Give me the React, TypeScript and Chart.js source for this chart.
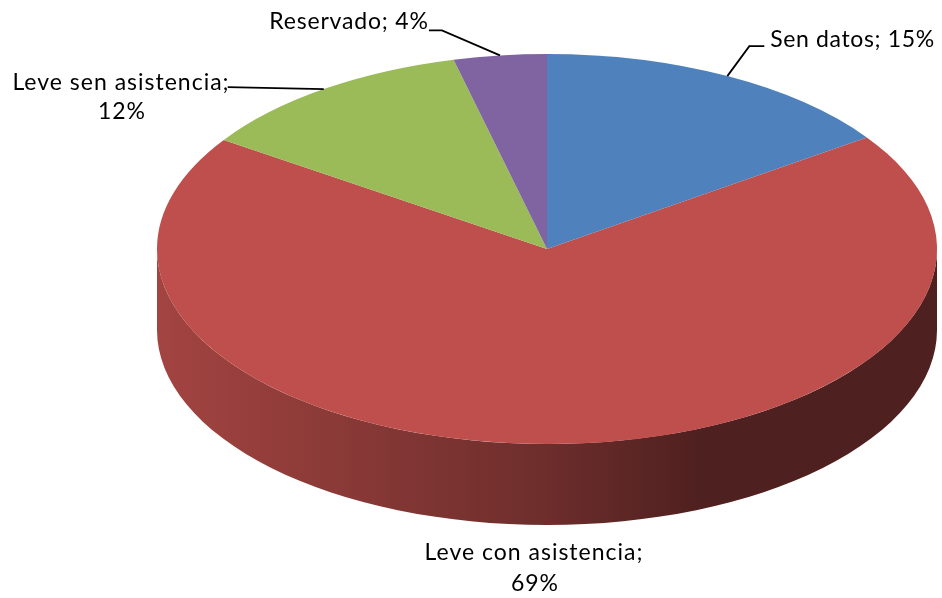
import { useEffect, useRef } from "react";
import { Chart, registerables } from "chart.js";

Chart.register(...registerables);

const categories = ["Sen datos", "Leve con asistencia", "Leve sen asistencia", "Reservado"];
const shares = [15.3, 69.15, 11.7, 3.85];
const sliceColors = ["#4f81bd", "#be4f4c", "#9bbb59", "#8064a2"];

const WIDTH = 942;
const HEIGHT = 598;
const TILT = 0.5;
const DEPTH = 81;
const RADIUS = 390;
const FONT = '23px Lato, "Noto Sans", sans-serif';

// Label layout per slice: text centre lines, and the leader elbow relative to the slice's rim point.
const labelLayout = [
  { spacing: "0.65px", lines: [{ cx: 852.5, cy: 40 }], leader: { elbow: [22, -30], end: [37, -30] } },
  { spacing: "1px", lines: [{ cx: 534, cy: 553 }, { cx: 535, cy: 584 }], leader: null },
  { spacing: "1px", lines: [{ cx: 121, cy: 83 }, { cx: 122, cy: 112 }], leader: { elbow: [-96, -2], end: [-96, -2] } },
  { spacing: "0.8px", lines: [{ cx: 349, cy: 22 }], leader: { elbow: [-58, -25], end: [-71, -25] } },
];

const wallStops: [number, number][] = [
  [0, 0.86],
  [0.49, 0.58],
  [0.7, 0.41],
  [1, 0.41],
];

function shade(hex: string, f: number) {
  const n = parseInt(hex.slice(1), 16);
  const c = [(n >> 16) & 255, (n >> 8) & 255, n & 255].map((v) => Math.round(v * f));
  return `rgb(${c[0]},${c[1]},${c[2]})`;
}

const pie3d = {
  id: "pie3d",
  beforeDatasetsDraw(chart: any) {
    const { ctx } = chart;
    const arcs = chart.getDatasetMeta(0).data;
    arcs.forEach((arc: any, i: number) => {
      const a0 = Math.max(arc.startAngle, 0);
      const a1 = Math.min(arc.endAngle, Math.PI);
      if (a1 <= a0) return;
      const rx = arc.outerRadius;
      const ry = rx * TILT;
      const g = ctx.createLinearGradient(arc.x - rx, 0, arc.x + rx, 0);
      wallStops.forEach(([p, f]) => g.addColorStop(p, shade(sliceColors[i], f)));
      ctx.save();
      ctx.fillStyle = g;
      ctx.beginPath();
      ctx.ellipse(arc.x, arc.y, rx, ry, 0, a0, a1);
      ctx.ellipse(arc.x, arc.y + DEPTH, rx, ry, 0, a1, a0, true);
      ctx.closePath();
      ctx.fill();
      ctx.restore();
    });
    const first = arcs[0];
    ctx.save();
    ctx.translate(first.x, first.y);
    ctx.scale(1, TILT);
    ctx.translate(-first.x, -first.y);
  },
  afterDatasetsDraw(chart: any) {
    const { ctx } = chart;
    ctx.restore();
    const arcs = chart.getDatasetMeta(0).data;
    ctx.save();
    ctx.font = FONT;
    ctx.fillStyle = "#000";
    ctx.textAlign = "center";
    ctx.textBaseline = "middle";
    ctx.strokeStyle = "#000";
    ctx.lineWidth = 1.8;
    arcs.forEach((arc: any, i: number) => {
      const layout = labelLayout[i];
      const pct = Math.round(shares[i]);
      const text =
        layout.lines.length === 1
          ? [`${categories[i]}; ${pct}%`]
          : [`${categories[i]};`, `${pct}%`];
      ctx.letterSpacing = layout.spacing;
      text.forEach((t, j) => ctx.fillText(t, layout.lines[j].cx, layout.lines[j].cy));
      if (layout.leader) {
        const mid = (arc.startAngle + arc.endAngle) / 2;
        const x = arc.x + arc.outerRadius * Math.cos(mid);
        const y = arc.y + arc.outerRadius * TILT * Math.sin(mid);
        ctx.beginPath();
        ctx.moveTo(x, y);
        ctx.lineTo(x + layout.leader.elbow[0], y + layout.leader.elbow[1]);
        ctx.lineTo(x + layout.leader.end[0], y + layout.leader.end[1]);
        ctx.stroke();
      }
    });
    ctx.restore();
  },
};

export default function App() {
  const ref = useRef<HTMLCanvasElement>(null);
  useEffect(() => {
    const chart = new Chart(ref.current as HTMLCanvasElement, {
      type: "pie",
      data: {
        labels: categories,
        datasets: [
          {
            data: shares,
            backgroundColor: sliceColors,
            borderWidth: 0,
            clip: false,
          } as any,
        ],
      },
      options: {
        responsive: false,
        animation: false,
        radius: RADIUS,
        layout: { padding: { left: 152, bottom: 100 } },
        plugins: { legend: { display: false }, tooltip: { enabled: false } },
      } as any,
      plugins: [pie3d],
    });
    return () => chart.destroy();
  }, []);
  return (
    <canvas
      ref={ref}
      width={WIDTH}
      height={HEIGHT}
      style={{ position: "absolute", left: 0, top: 0, background: "#fff" }}
    />
  );
}
